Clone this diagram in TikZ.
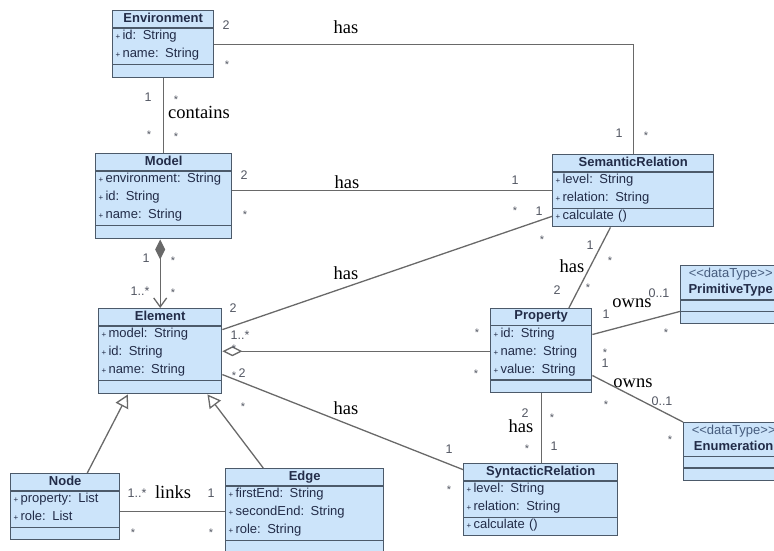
\documentclass[tikz,border=0pt]{standalone}
\usepackage{fontspec}
\setmainfont{Liberation Sans}
\newfontfamily\labelfont{Liberation Serif}
\usepackage{xcolor}
\usepackage{tikz}
\usetikzlibrary{arrows.meta}
\usetikzlibrary{shapes.multipart}
\usetikzlibrary{calc}

\setlength{\parindent}{0pt}
\definecolor{classfill}{RGB}{204,228,250}
\definecolor{classdraw}{RGB}{76,90,106}
\definecolor{classtext}{RGB}{34,44,72}
\definecolor{stereo}{RGB}{70,92,125}
\definecolor{linegrey}{RGB}{105,105,105}
\definecolor{multgrey}{RGB}{82,86,98}

\newcommand{\tstrut}{\rule[-3.5pt]{0pt}{12pt}}
\newcommand{\rstrut}{\rule[-4.5pt]{0pt}{13.5pt}}
\newcommand{\dstrut}{\rule[-4pt]{0pt}{12.5pt}}
\newcommand{\umlplus}{{\fontsize{8}{8}\selectfont+}\,}
\newcommand{\classtitle}[1]{\hfill\tstrut\textbf{#1}\hfill\null}

\begin{document}
\begin{tikzpicture}[x=1pt, y=-1pt,
    umlclass/.style={rectangle split, rectangle split parts=3, anchor=north west,
      draw=classdraw, fill=classfill, line width=1.4pt, inner xsep=3pt, inner ysep=1.5pt,
      align=left, text=classtext, font=\fontsize{13}{18}\selectfont},
    assoc/.style={draw=linegrey, line width=1.3pt},
    mult/.style={text=multgrey, inner sep=0pt, font=\fontsize{12.5}{14}\selectfont},
    mstar/.style={mult, yshift=-2.6pt, font=\fontsize{11}{13}\selectfont},
    rel/.style={inner sep=0pt, font=\labelfont\fontsize{18.5}{20}\selectfont}]
  \useasboundingbox (0,0) rectangle (774,550);
  \clip (0,0) rectangle (774,550);

  % classes
  \node[umlclass, text width=95pt] (env) at (112,10)
    {\classtitle{Environment}
     \nodepart{two}\rstrut\umlplus id: String\\\rstrut\umlplus name: String
     \nodepart{three}\rule{0pt}{9pt}};
  \node[umlclass, text width=130pt] (model) at (95,153)
    {\classtitle{Model}
     \nodepart{two}\rstrut\umlplus environment: String\\\rstrut\umlplus id: String\\\rstrut\umlplus name: String
     \nodepart{three}\rule{0pt}{9pt}};
  \node[umlclass, text width=117pt] (elem) at (98,308)
    {\classtitle{Element}
     \nodepart{two}\rstrut\umlplus model: String\\\rstrut\umlplus id: String\\\rstrut\umlplus name: String
     \nodepart{three}\rule{0pt}{9pt}};
  \node[umlclass, text width=103pt] (nodecls) at (10,473)
    {\classtitle{Node}
     \nodepart{two}\rstrut\umlplus property: List\\\rstrut\umlplus role: List
     \nodepart{three}\rule{0pt}{8pt}};
  \node[umlclass, text width=152pt] (edgecls) at (225,468)
    {\classtitle{Edge}
     \nodepart{two}\rstrut\umlplus firstEnd: String\\\rstrut\umlplus secondEnd: String\\\rstrut\umlplus role: String
     \nodepart{three}\rule{0pt}{9pt}};
  \node[umlclass, text width=155pt] (semrel) at (552,154)
    {\classtitle{SemanticRelation}
     \nodepart{two}\rstrut\umlplus level: String\\\rstrut\umlplus relation: String
     \nodepart{three}\rstrut\umlplus calculate ()};
  \node[umlclass, text width=95pt] (prop) at (490,308)
    {\classtitle{Property}
     \nodepart{two}\rstrut\umlplus id: String\\\rstrut\umlplus name: String\\\rstrut\umlplus value: String
     \nodepart{three}\rule{0pt}{8.5pt}};
  \node[umlclass, text width=148pt] (synrel) at (463,463)
    {\classtitle{SyntacticRelation}
     \nodepart{two}\rstrut\umlplus level: String\\\rstrut\umlplus relation: String
     \nodepart{three}\rstrut\umlplus calculate ()};
  \node[umlclass, text width=94pt, font=\fontsize{13}{16.5}\selectfont] (primtype) at (680,265)
    {\hfill\dstrut{\color{stereo}<{}<dataType>{}>}\hfill\null\\\hfill\dstrut\textbf{PrimitiveType}\hfill\null
     \nodepart{two}\rule{0pt}{7pt}
     \nodepart{three}\rule{0pt}{7.7pt}};
  \node[umlclass, text width=94pt, font=\fontsize{13}{16}\selectfont] (enumtype) at (683,422)
    {\hfill\dstrut{\color{stereo}<{}<dataType>{}>}\hfill\null\\\hfill\dstrut\textbf{Enumeration}\hfill\null
     \nodepart{two}\rule{0pt}{7pt}
     \nodepart{three}\rule{0pt}{8pt}};

  % connectors
  \draw[assoc] (env.east) -| (semrel.north);
  \draw[assoc] (env.south) -- (env.south |- model.north);
  \draw[assoc] (semrel.west -| model.east) -- (semrel.west);
  \draw[assoc, {Diamond[length=20pt,width=10pt]}-{Straight Barb[length=9pt,width=13pt]}]
    (elem.north |- model.south) -- (elem.north);
  \draw[assoc] ($(elem.north east)!0.25!(elem.south east)$) -- ($(semrel.north west)!0.85!(semrel.south west)$);
  \draw[assoc] ($(semrel.south west)!0.36!(semrel.south east)$) -- ($(prop.north west)!0.77!(prop.north east)$);
  \draw[assoc, {Diamond[open,fill=white,length=20pt,width=10pt]}-] (elem.east) -- (elem.east -| prop.west);
  \draw[assoc] ($(elem.north east)!0.77!(elem.south east)$) -- ($(synrel.north west)!0.09!(synrel.south west)$);
  \draw[assoc] (prop.south) -- (prop.south |- synrel.north);
  \draw[assoc] ($(prop.north east)!0.31!(prop.south east)$) -- (primtype.two split west);
  \draw[assoc] ($(prop.north east)!0.79!(prop.south east)$) -- (enumtype.north west);
  \draw[assoc, -{Triangle[open,fill=white,length=13pt,width=14pt]}]
    ($(nodecls.north west)!0.7!(nodecls.north east)$) -- ($(elem.south west)!0.24!(elem.south east)$);
  \draw[assoc, -{Triangle[open,fill=white,length=13pt,width=14pt]}]
    ($(edgecls.north west)!0.24!(edgecls.north east)$) -- ($(elem.south west)!0.88!(elem.south east)$);
  \coordinate (nlink) at ($(nodecls.north east)!0.57!(nodecls.south east)$);
  \draw[assoc] (nlink) -- (nlink -| edgecls.west);

  % association labels
  \node[rel] (envsem-l) at (346,27) {has};
  \node[rel] (envmod-l) at (199,112) {contains};
  \node[rel] (modsem-l) at (347,182) {has};
  \node[rel] (elemsem-l) at (346,273) {has};
  \node[rel] (elemsyn-l) at (346,408) {has};
  \node[rel] (semprop-l) at (572,266) {has};
  \node[rel] (propsyn-l) at (521,426) {has};
  \node[rel] (propprim-l) at (632,303) {owns};
  \node[rel] (propenum-l) at (633,383) {owns};
  \node[rel] (links-l) at (173,492) {links};

  % multiplicities
  \node[mult] (envsem-m1) at (226,25) {2};
  \node[mstar] (envsem-s1) at (227,62) {*};
  \node[mult] (envsem-m2) at (619,133) {1};
  \node[mstar] (envsem-s2) at (646,133) {*};
  \node[mult] (envmod-m1) at (148,97) {1};
  \node[mstar] (envmod-s1) at (176,97) {*};
  \node[mstar] (envmod-s2) at (149,132) {*};
  \node[mstar] (envmod-s3) at (176,134) {*};
  \node[mult] (modsem-m1) at (244,175) {2};
  \node[mstar] (modsem-s1) at (245,212) {*};
  \node[mult] (modsem-m2) at (515,180) {1};
  \node[mstar] (modsem-s2) at (515,208) {*};
  \node[mult] (modelem-m1) at (146,258) {1};
  \node[mstar] (modelem-s1) at (173,258) {*};
  \node[mult] (modelem-m2) at (140,291) {1..*};
  \node[mstar] (modelem-s2) at (173,290) {*};
  \node[mult] (elemsem-m1) at (233,308) {2};
  \node[mult] (elemsem-m2) at (539,211) {1};
  \node[mstar] (elemsem-s1) at (542,237) {*};
  \node[mult] (elemprop-m1) at (240,335) {1..*};
  \node[mstar] (elemprop-s1) at (234,346) {*};
  \node[mstar] (elemprop-s2) at (477,330) {*};
  \node[mstar] (elemprop-s3) at (476,371) {*};
  \node[mstar] (elemsyn-s1) at (234,373) {*};
  \node[mult] (elemsyn-m1) at (242,373) {2};
  \node[mstar] (elemsyn-s2) at (243,404) {*};
  \node[mult] (elemsyn-m2) at (449,449) {1};
  \node[mstar] (elemsyn-s3) at (449,487) {*};
  \node[mult] (semprop-m1) at (590,245) {1};
  \node[mstar] (semprop-s1) at (610,258) {*};
  \node[mult] (semprop-m2) at (557,290) {2};
  \node[mstar] (semprop-s2) at (588,285) {*};
  \node[mult] (propsyn-m1) at (525,413) {2};
  \node[mstar] (propsyn-s1) at (552,415) {*};
  \node[mstar] (propsyn-s2) at (527,446) {*};
  \node[mult] (propsyn-m2) at (554,446) {1};
  \node[mult] (propprim-m1) at (606,314) {1};
  \node[mult] (propprim-m2) at (659,293) {0..1};
  \node[mstar] (propprim-s1) at (666,330) {*};
  \node[mstar] (propprim-s2) at (605,350) {*};
  \node[mult] (propenum-m1) at (605,363) {1};
  \node[mstar] (propenum-s1) at (606,402) {*};
  \node[mult] (propenum-m2) at (662,401) {0..1};
  \node[mstar] (propenum-s2) at (670,437) {*};
  \node[mult] (links-m1) at (137,493) {1..*};
  \node[mult] (links-m2) at (211,493) {1};
  \node[mstar] (links-s1) at (133,530) {*};
  \node[mstar] (links-s2) at (211,530) {*};
\end{tikzpicture}
\end{document}
